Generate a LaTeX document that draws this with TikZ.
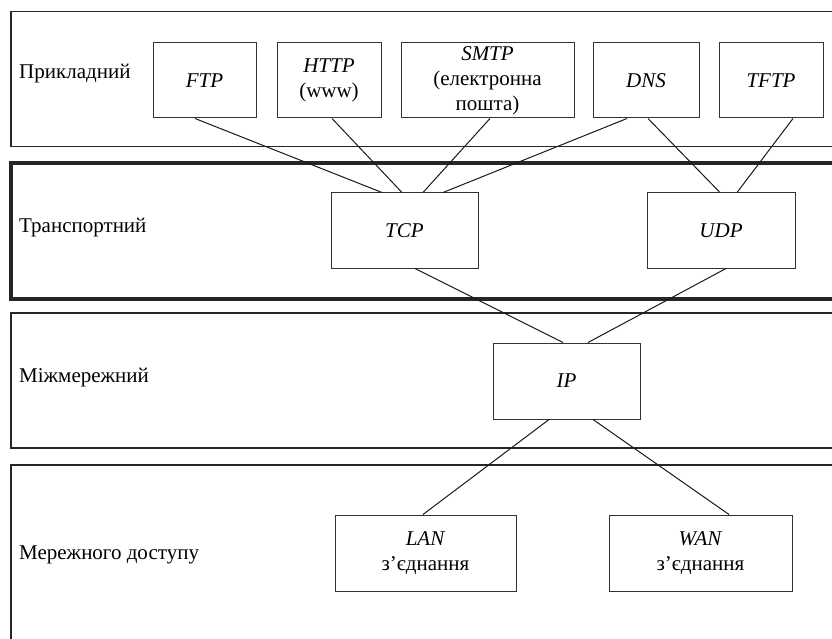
\documentclass[tikz,border=0pt]{standalone}
\usepackage{fontspec}
\setmainfont{Liberation Serif}
\tikzset{
  proto/.style={shape=rectangle,draw=black!80,line width=1pt,minimum height=75pt,inner sep=0pt,align=center,font=\fontsize{21}{25}\selectfont},
  layer/.style={draw=black!85,line width=1.5pt},
  lname/.style={anchor=west,inner sep=0pt,font=\fontsize{21}{25}\selectfont},
  link/.style={draw=black!90,line width=1pt},
}
\begin{document}
\begin{tikzpicture}[x=1pt,y=-1pt]
\useasboundingbox (0,0) rectangle (832,639);
\clip (0,0) rectangle (832,639);

% layers
\draw[layer] (11,11.7) rectangle (850,146.7);
\draw[layer,line width=3.5pt] (11,163) rectangle (850,299);
\draw[layer] (11,313) rectangle (850,448);
\draw[layer] (11,465) rectangle (850,660);

\node(appl) at (19,74)[lname]  {Прикладний};
\node(trans) at (19,228)[lname] {Транспортний};
\node(inet) at (19,378)[lname]  {Міжмережний};
\node(acc) at (19,555)[lname]   {Мережного доступу};

% protocols
\node(ftp) at (204.5,80.5)[proto,minimum width=103pt]  {\textit{FTP}};
\node(http) at (329,80.5)[proto,minimum width=104pt]   {\textit{HTTP}\\(www)};
\node(smtp) at (487.5,80.5)[proto,minimum width=173pt] {\textit{SMTP}\\(електронна\\пошта)};
\node(dns) at (646,80.5)[proto,minimum width=106pt]    {\textit{DNS}};
\node(tftp) at (771,80.5)[proto,minimum width=104pt]   {\textit{TFTP}};

\node(tcp) at (404.5,230.5)[proto,minimum width=147pt] {\textit{TCP}};
\node(udp) at (721,230.5)[proto,minimum width=148pt]   {\textit{UDP}};

\node(ip) at (566.5,381)[proto,minimum width=147pt,minimum height=76pt] {\textit{IP}};

\node(lan) at (425.5,553)[proto,minimum width=181pt,minimum height=76pt] {\textit{LAN}\\з’єднання};
\node(wan) at (700.5,553)[proto,minimum width=183pt,minimum height=76pt] {\textit{WAN}\\з’єднання};

\path [link]
  ([xshift=-9.5pt]ftp.south)  edge ([xshift=-22.5pt]tcp.north)
  ([xshift=3pt]http.south)    edge ([xshift=-2.5pt]tcp.north)
  ([xshift=2.5pt]smtp.south)  edge ([xshift=18.5pt]tcp.north)
  ([xshift=-19pt]dns.south)   edge ([xshift=38.5pt]tcp.north)
  ([xshift=2pt]dns.south)     edge ([xshift=-1pt]udp.north)
  ([xshift=22pt]tftp.south)   edge ([xshift=16pt]udp.north)
  ([xshift=10.5pt]tcp.south)  edge ([xshift=-3.5pt]ip.north)
  ([xshift=5pt]udp.south)     edge ([xshift=21.5pt]ip.north)
  ([xshift=-17.5pt]ip.south)  edge ([xshift=-2.5pt]lan.north)
  ([xshift=26.5pt]ip.south)   edge ([xshift=28.5pt]wan.north);

\end{tikzpicture}
\end{document}
